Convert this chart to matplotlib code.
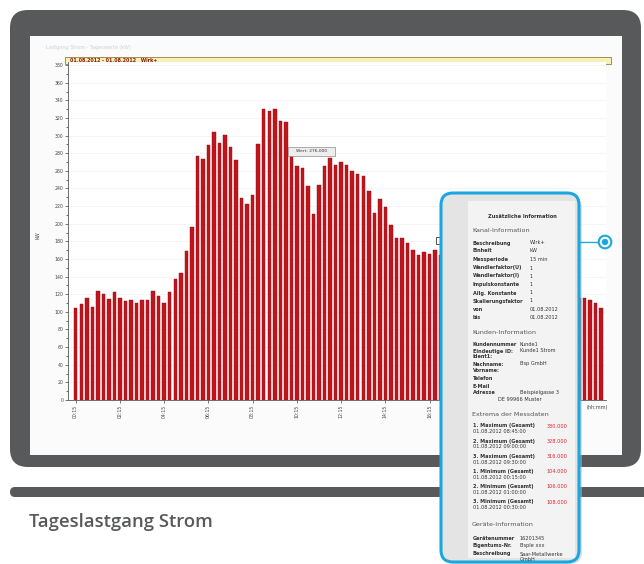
import matplotlib
matplotlib.use("Agg")
import matplotlib.pyplot as plt
from matplotlib.patches import FancyBboxPatch, Rectangle, Circle
import numpy as np

# 15-min load values (kW), 96 intervals from 00:15; bars 66-90 sit behind the popup (estimated)
load_kw = [104, 109, 116, 106, 124, 120, 115, 122, 116, 112,
           114, 110, 114, 113, 124, 118, 110, 122, 137, 144,
           169, 196, 277, 274, 289, 304, 292, 301, 287, 272,
           229, 222, 233, 291, 330, 328, 330, 316, 315, 277,
           265, 263, 243, 211, 244, 265, 275, 267, 270, 267,
           260, 256, 254, 237, 212, 228, 219, 198, 184, 184,
           178, 170, 164, 168, 166, 170, 165, 168, 160, 158,
           162, 155, 150, 152, 147, 144, 146, 140, 137, 139,
           134, 131, 133, 128, 126, 129, 124, 122, 124, 120,
           118, 116, 116, 114, 110, 104]
# only the labels that are not covered by the popup
time_labels = ["00:15", "02:15", "04:15", "06:15", "08:15", "10:15",
               "12:15", "14:15", "16:15"]
y_ticks = list(range(0, 381, 20))

# popup texts
kanal_keys = ["Beschreibung", "Einheit", "Messperiode", "Wandlerfaktor(U)", "Wandlerfaktor(I)",
              "Impulskonstante", "Allg. Konstante", "Skalierungsfaktor", "von", "bis"]
kanal_vals = ["Wirk+", "kW", "15 min", "1", "1", "1", "1", "1", "01.08.2012", "01.08.2012"]
kunden_keys = ["Kundennummer", "Eindeutige ID:", "Ident1:", "Nachname:", "Vorname:",
               "Telefon", "E-Mail", "Adresse", ""]
kunden_vals = ["Kunde1", "Kunde1 Strom", "", "Bsp GmbH", "", "", "", "Beispielgasse 3", "DE 99966 Muster"]
extrema_names = ["1. Maximum (Gesamt)", "2. Maximum (Gesamt)", "3. Maximum (Gesamt)",
                 "1. Minimum (Gesamt)", "2. Minimum (Gesamt)", "3. Minimum (Gesamt)"]
extrema_vals = ["330.000", "328.000", "316.000", "104.000", "106.000", "108.000"]
extrema_times = ["01.08.2012 08:45:00", "01.08.2012 09:00:00", "01.08.2012 09:30:00",
                 "01.08.2012 00:15:00", "01.08.2012 01:00:00", "01.08.2012 00:30:00"]
geraete_keys = ["Gerätenummer", "Eigentums-Nr.", "Beschreibung", ""]
geraete_vals = ["16201345", "Bsple xxx", "Saar-Metallwerke", "GmbH"]

W, H = 644, 564
grey = "#58595b"
cyan = "#1aa7e0"
bar_red = "#c3141c"

fig = plt.figure(figsize=(W / 100, H / 100), dpi=100)
fig.patch.set_facecolor("white")

# background layer in pixel coordinates
bg = fig.add_axes([0, 0, 1, 1], zorder=0)
bg.set_xlim(0, W)
bg.set_ylim(H, 0)
bg.axis("off")

bg.add_patch(FancyBboxPatch((10, 10), 631, 457, boxstyle="round,pad=0,rounding_size=18",
                            fc=grey, ec="none"))                      # monitor frame
bg.add_patch(Rectangle((30, 36), 592, 419, fc="#fbfbfb", ec="none"))   # screen
bg.add_patch(FancyBboxPatch((10, 487), 660, 10, boxstyle="round,pad=0,rounding_size=5",
                            fc=grey, ec="none"))                      # stand bar
bg.text(29, 522, "Tageslastgang Strom", fontsize=13.3, fontweight="semibold", family="Open Sans",
        color=grey, va="center", ha="left")
bg.text(46, 47, "Lastgang Strom - Tageswerte (kW)", fontsize=3.5, color="#d0d0d0", va="center")
bg.add_patch(Rectangle((65, 56.5), 546, 7, fc="#f8f1b4", ec="#9a7b45", lw=0.6))   # header bar
bg.text(70, 60, "01.08.2012 - 01.08.2012   Wirk+", fontsize=3.4, fontweight="bold",
        color="#8b1a10", va="center")
bg.text(38, 235, "kW", fontsize=3.5, rotation=90, color="#444444", va="center", ha="center")
bg.text(597, 408, "(hh:mm)", fontsize=3.5, color="#444444", va="center", ha="center")

# the bar chart
ax = fig.add_axes([68 / W, 1 - 400 / H, 538 / W, 338 / H], zorder=1)
ax.set_facecolor("white")
x = np.arange(len(load_kw))
ax.bar(x, load_kw, width=0.62, color=bar_red, edgecolor="#8e0c12", linewidth=0.3, zorder=2)
ax.set_xlim(-1.4, 95.9)
ax.set_ylim(0, 383.5)
ax.set_yticks(y_ticks)
ax.set_yticklabels([str(v) for v in y_ticks], fontsize=3.3, color="#444444")
ax.set_yticks(range(10, 381, 20), minor=True)
ax.set_xticks(range(0, 8 * len(time_labels), 8))
ax.set_xticklabels(time_labels, fontsize=3.3, rotation=90, color="#444444")
ax.tick_params(axis="both", length=2, width=0.5, pad=1.5, colors="#444444")
ax.tick_params(axis="y", which="minor", length=1.2, width=0.4)
ax.grid(axis="y", color="#f1f1f1", linewidth=0.5, zorder=0)
for side in ["top", "right"]:
    ax.spines[side].set_visible(False)
ax.spines["left"].set_linewidth(0.6)
ax.spines["bottom"].set_linewidth(0.6)
ax.spines["left"].set_color("#555555")
ax.spines["bottom"].set_color("#555555")

# overlay layer: tooltip, popup, connector
ov = fig.add_axes([0, 0, 1, 1], zorder=3)
ov.set_xlim(0, W)
ov.set_ylim(H, 0)
ov.axis("off")
ov.patch.set_alpha(0)

ov.add_patch(Rectangle((288, 147), 47, 8.5, fc="#eeeeee", ec="#8c8c8c", lw=0.5))
ov.text(311.5, 151.3, "Wert: 276,000", fontsize=3.2, color="#333333", ha="center", va="center")
ov.add_patch(Rectangle((436, 237), 11, 7, fc="white", ec="#555555", lw=0.7))

ov.add_patch(FancyBboxPatch((444, 196), 138, 368, boxstyle="round,pad=0,rounding_size=12",
                            fc="#bdbdbd", ec="none", alpha=0.5))      # shadow
ov.add_patch(FancyBboxPatch((441, 193), 138, 369, boxstyle="round,pad=0,rounding_size=12",
                            fc="#e4e4e4", ec=cyan, lw=2.2))           # popup
ov.add_patch(Rectangle((468, 201), 107, 357, fc="#f3f3f3", ec="none"))
ov.plot([580, 598], [242, 242], color=cyan, lw=0.9)
ov.add_patch(Circle((605, 242), 6.3, fc="white", ec=cyan, lw=1.5))
ov.add_patch(Circle((605, 242), 3.2, fc=cyan, ec="none"))

txt = "#333333"
ov.text(522, 216, "Zusätzliche Information", fontsize=3.7, fontweight="bold", color=txt, ha="center", va="center")
ov.text(472, 231, "Kanal-Information", fontsize=4.6, color="#555555", va="center")
rows_y = [243, 251, 259.5, 268, 276, 284.5, 293, 301, 309.5, 317.5]
for k, v, yy in zip(kanal_keys, kanal_vals, rows_y):
    ov.text(473, yy, k, fontsize=3.6, fontweight="bold", color=txt, va="center")
    ov.text(530, yy, v, fontsize=3.6, color=txt, va="center")

ov.text(472, 333, "Kunden-Information", fontsize=4.6, color="#555555", va="center")
rows_y = [345, 351, 357, 364, 371, 379, 386, 392.5, 399.5]
for k, v, yy in zip(kunden_keys, kunden_vals, rows_y):
    ov.text(473, yy, k, fontsize=3.6, fontweight="bold", color=txt, va="center")
    ov.text(520 if v != "DE 99966 Muster" else 498, yy, v, fontsize=3.6, color=txt, va="center")

ov.text(472, 415, "Extrema der Messdaten", fontsize=4.6, color="#555555", va="center")
for i, (n, v, t) in enumerate(zip(extrema_names, extrema_vals, extrema_times)):
    yy = 426 + i * 15.2
    ov.text(473, yy, n, fontsize=3.6, fontweight="bold", color=txt, va="center")
    ov.text(547, yy, v, fontsize=3.6, color="#e0202a", va="center")
    ov.text(473, yy + 5.8, t, fontsize=3.6, color=txt, va="center")

ov.text(472, 525, "Geräte-Information", fontsize=4.6, color="#555555", va="center")
rows_y = [538, 546, 554, 559.5]
for k, v, yy in zip(geraete_keys, geraete_vals, rows_y):
    ov.text(473, yy, k, fontsize=3.6, fontweight="bold", color=txt, va="center")
    ov.text(520, yy, v, fontsize=3.6, color=txt, va="center")

fig.savefig("out.png", dpi=100)
